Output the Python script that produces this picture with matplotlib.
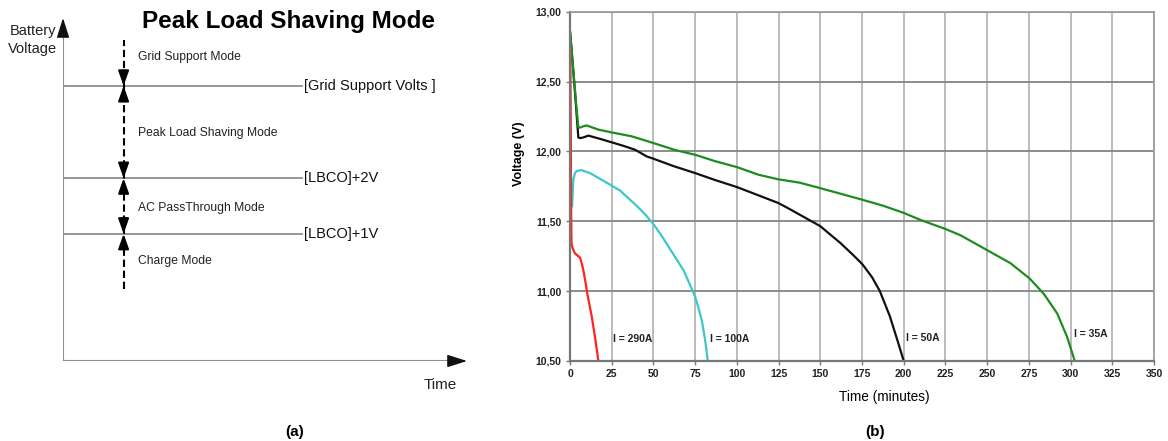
import matplotlib
matplotlib.use("Agg")
import matplotlib.pyplot as plt

# ---------------- data ----------------
# Panel (a): schematic levels (relative battery voltage, axis fraction)
level_names = ["[Grid Support Volts ]", "[LBCO]+2V", "[LBCO]+1V"]
level_values = [0.802, 0.533, 0.371]
mode_names = ["Grid Support Mode", "Peak Load Shaving Mode", "AC PassThrough Mode", "Charge Mode"]
mode_positions = [0.886, 0.665, 0.446, 0.292]

# Panel (b): discharge curves (time in minutes, voltage in V)
t_290 = [0.2, 0.4, 0.6, 0.8, 1.0, 1.8, 3.0, 4.5, 6.0, 7.0, 8.0, 9.2, 10.4, 11.7, 13.0, 14.0, 15.0, 16.0, 17.0]
v_290 = [12.73, 12.3, 11.8, 11.4, 11.33, 11.30, 11.27, 11.255, 11.24, 11.20, 11.15, 11.07, 10.98, 10.90,
         10.82, 10.745, 10.67, 10.585, 10.50]

t_100 = [1.2, 1.6, 2.0, 3.0, 4.0, 6.8, 12.0, 20.0, 30.0, 40.0, 45.0, 50.0, 55.0, 60.0, 64.0, 68.0, 71.0,
         75.0, 77.0, 79.0, 81.0, 82.6]
v_100 = [11.60, 11.70, 11.80, 11.845, 11.86, 11.866, 11.845, 11.79, 11.72, 11.61, 11.55, 11.48, 11.395,
         11.30, 11.225, 11.15, 11.07, 10.96, 10.88, 10.79, 10.65, 10.50]

t_50 = [0, 1, 2, 3, 4, 5, 6, 8, 11, 18, 25, 32, 39, 46, 50, 62, 75, 87, 100, 112, 125, 132, 138, 150,
        162, 170, 175.4, 181, 185.7, 191.7, 196.7, 200]
v_50 = [12.86, 12.72, 12.57, 12.42, 12.26, 12.10, 12.095, 12.10, 12.113, 12.09, 12.065, 12.04, 12.012,
        11.964, 11.948, 11.895, 11.845, 11.795, 11.745, 11.69, 11.63, 11.585, 11.545, 11.465, 11.345,
        11.255, 11.19, 11.10, 11.00, 10.82, 10.63, 10.50]

t_35 = [0, 1, 2, 3, 4, 5, 6, 8, 10, 17, 25, 37, 50, 63, 75, 87, 100, 113, 125, 137.8, 150, 175, 188,
        200, 210, 225, 234, 250.5, 264, 275.5, 284, 292, 298, 302.5]
v_35 = [12.86, 12.72, 12.58, 12.44, 12.30, 12.175, 12.17, 12.18, 12.186, 12.156, 12.136, 12.108, 12.06,
        12.01, 11.976, 11.93, 11.888, 11.833, 11.80, 11.776, 11.737, 11.655, 11.61, 11.56, 11.51, 11.445,
        11.40, 11.29, 11.20, 11.09, 10.98, 10.84, 10.67, 10.50]

curve_labels = ["I = 290A", "I = 100A", "I = 50A", "I = 35A"]
label_pos_t = [26.0, 84.0, 201.6, 302.0]
label_pos_v = [10.66, 10.66, 10.665, 10.69]
curve_colors = ["#ff2222", "#3cc8c8", "#111111", "#1e8c1e"]

x_ticks = list(range(0, 351, 25))
y_ticks = [10.5, 11.0, 11.5, 12.0, 12.5, 13.0]
y_tick_labels = ["10,50", "11,00", "11,50", "12,00", "12,50", "13,00"]

# ---------------- figure ----------------
W, H = 1168, 441
fig = plt.figure(figsize=(W / 100, H / 100), dpi=100)
fig.patch.set_facecolor("white")

sans = ["Liberation Sans", "DejaVu Sans"]
narrow = ["Liberation Sans Narrow", "Liberation Sans", "DejaVu Sans"]

# ---- Panel (a) ----
ax_h = 361 - 18
axa = fig.add_axes([63 / W, (H - 361) / H, (467 - 63) / W, ax_h / H])
axa.set_xlim(0, 1)
axa.set_ylim(0, 1)
axa.axis("off")

gray = "#8f8f8f"
axa.plot([0, 0], [0, 0.97], color=gray, lw=1.5)
axa.plot([0, 0.97], [0, 0], color=gray, lw=1.5)
axa.annotate("", xy=(0, 1.0), xytext=(0, 0.95), xycoords="axes fraction",
             arrowprops=dict(arrowstyle="-|>,head_length=1.1,head_width=0.35", color="#111111",
                             lw=1.0, mutation_scale=11, shrinkA=0, shrinkB=0), annotation_clip=False)
axa.annotate("", xy=(1.0, 0), xytext=(0.96, 0), xycoords="axes fraction",
             arrowprops=dict(arrowstyle="-|>,head_length=1.1,head_width=0.35", color="#111111",
                             lw=1.0, mutation_scale=11, shrinkA=0, shrinkB=0), annotation_clip=False)

xd = 0.150
for name, lv in zip(level_names, level_values):
    axa.plot([0, 0.592], [lv, lv], color=gray, lw=1.3)
    axa.text(0.597, lv, name, fontsize=10.5, family=sans, color="#111111", va="center", ha="left")

# dashed vertical line
axa.plot([xd, xd], [(361 - 289) / ax_h, (361 - 40) / ax_h], color="black", lw=1.5,
         ls=(0, (3.5, 1.8)))
# arrow heads pointing at each level
off = 11 / ax_h
for lv in level_values:
    for sgn in (1, -1):
        axa.annotate("", xy=(xd, lv), xytext=(xd, lv + sgn * off),
                     arrowprops=dict(arrowstyle="-|>,head_length=0.9,head_width=0.32", color="black",
                                     lw=1.5, mutation_scale=10, shrinkA=0, shrinkB=0))

for name, mp in zip(mode_names, mode_positions):
    axa.text(0.186, mp, name, fontsize=8.7, family=sans, color="#222222", va="center", ha="left")

fig.text(289 / W, 1 - 21.7 / H, "Peak Load Shaving Mode", fontsize=17.5, fontweight="bold",
         family=sans, ha="center", va="center")
fig.text(33 / W, 1 - 40 / H, "Battery\nVoltage", fontsize=10.5, family=sans, ha="center",
         va="center", color="#222222", linespacing=1.45)
fig.text(440 / W, 1 - 385 / H, "Time", fontsize=11, family=sans, ha="center", va="center",
         color="#222222")
fig.text(294.5 / W, 1 - 431.7 / H, "(a)", fontsize=11, fontweight="bold", family=sans,
         ha="center", va="center")

# ---- Panel (b) ----
axb = fig.add_axes([570 / W, (H - 361) / H, 584 / W, (361 - 11.7) / H])
axb.set_xlim(0, 350)
axb.set_ylim(10.5, 13.0)
axb.set_xticks(x_ticks)
axb.set_yticks(y_ticks)
axb.set_yticklabels(y_tick_labels)
for lab in axb.get_xticklabels() + axb.get_yticklabels():
    lab.set_fontfamily(narrow)
    lab.set_fontweight("bold")
    lab.set_fontsize(7.5)
    lab.set_color("#222222")
axb.tick_params(axis="both", length=3, width=1.0, color="#777777", pad=3)
axb.grid(True, axis="x", color="#aaaaaa", lw=1.1)
axb.grid(True, axis="y", color="#8c8c8c", lw=1.4)
axb.set_axisbelow(True)
for side in ["top", "right"]:
    axb.spines[side].set_color("#999999")
    axb.spines[side].set_linewidth(1.2)
for side in ["left", "bottom"]:
    axb.spines[side].set_color("#777777")
    axb.spines[side].set_linewidth(1.6)

series = [(t_290, v_290), (t_100, v_100), (t_50, v_50), (t_35, v_35)]
order = [2, 1, 3, 0]
for i in order:
    t, v = series[i]
    axb.plot(t, v, color=curve_colors[i], lw=1.6, solid_joinstyle="round", solid_capstyle="butt")

for lab, tx, vy in zip(curve_labels, label_pos_t, label_pos_v):
    axb.text(tx, vy, lab, fontsize=7.5, fontweight="bold", family=narrow, ha="left", va="center",
             color="#222222")

fig.text(519 / W, 1 - 154 / H, "Voltage (V)", rotation=90, fontsize=9, fontweight="bold",
         family=sans, ha="center", va="center")
fig.text(884 / W, 1 - 397 / H, "Time (minutes)", fontsize=9.8, family=sans, ha="center",
         va="center")
fig.text(874.7 / W, 1 - 431.7 / H, "(b)", fontsize=11, fontweight="bold", family=sans,
         ha="center", va="center")

fig.savefig("out.png", dpi=100, facecolor="white")
